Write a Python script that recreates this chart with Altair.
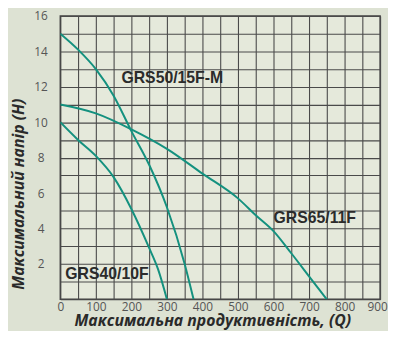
import altair as alt
import pandas as pd

# Curve readings (Q, H)
grs50_q = [0, 50, 100, 150, 200, 250, 300, 350, 375]
grs50_h = [15, 14.1, 13.0, 11.5, 9.5, 7.6, 5.2, 2.0, 0]

grs65_q = [0, 100, 200, 300, 400, 500, 550, 600, 650, 700, 750]
grs65_h = [11, 10.5, 9.6, 8.5, 7.1, 5.7, 4.75, 3.85, 2.6, 1.3, 0]

grs40_q = [0, 50, 100, 150, 200, 250, 275, 300]
grs40_h = [10, 9.0, 8.1, 6.9, 5.1, 2.9, 1.7, 0]

label_names = ["GRS50/15F-M", "GRS65/11F", "GRS40/10F"]
label_q = [172, 600, 14]
label_h = [12.5, 4.57, 1.45]

x_title = "Максимальна продуктивність, (Q)"
y_title = "Максимальний напір (H)"

rows = []
for name, qs, hs in [("GRS50/15F-M", grs50_q, grs50_h),
                     ("GRS65/11F", grs65_q, grs65_h),
                     ("GRS40/10F", grs40_q, grs40_h)]:
    for i, (q, h) in enumerate(zip(qs, hs)):
        rows.append({"series": name, "Q": q, "H": h, "order": i})
df = pd.DataFrame(rows)
labels = pd.DataFrame({"name": label_names, "Q": label_q, "H": label_h})

xscale = alt.Scale(domain=[0, 900], nice=False)
yscale = alt.Scale(domain=[0, 16], nice=False)

xaxis = alt.Axis(
    values=list(range(0, 901, 50)),
    labelExpr="datum.value % 100 == 0 ? datum.label : ''",
    grid=True, gridColor="#4a4a4a", gridWidth=1.1, gridOpacity=1,
    ticks=False, domain=False, labelOverlap=False,
    labelFont="Open Sans", labelFontSize=12, labelColor="#555555", labelPadding=2,
    labelFlush=False,
    labelOffset={"condition": {"test": "datum.value == 900", "value": -3}, "value": 0},
    title=x_title, titleFont="Open Sans", titleFontSize=16, titleFontStyle="italic",
    titleFontWeight="bold", titleColor="#2a2a2a",
    titleX=154, titleY=22, titleBaseline="middle", titleAnchor="middle",
)
yaxis = alt.Axis(
    values=list(range(0, 17)),
    labelExpr="(datum.value % 2 == 0 && datum.value > 0) ? datum.label : ''",
    grid=True, gridColor="#4a4a4a", gridWidth=1.1, gridOpacity=1,
    ticks=False, domain=False, labelOverlap=False, labelFlush=False,
    labelFont="Open Sans", labelFontSize=12, labelColor="#555555",
    labelAlign="center", labelBaseline="middle", labelPadding=20,
    title=y_title, titleFont="Open Sans", titleFontSize=16, titleFontStyle="italic",
    titleFontWeight="bold", titleColor="#2a2a2a",
    titleX=-42, titleY=180, titleAngle=270, titleBaseline="middle", titleAnchor="middle",
)

lines = alt.Chart(df).mark_line(
    interpolate="monotone", color="#14917f", strokeWidth=2, clip=True
).encode(
    x=alt.X("Q:Q", scale=xscale, axis=xaxis),
    y=alt.Y("H:Q", scale=yscale, axis=yaxis),
    detail="series:N",
    order="order:Q",
)

texts = alt.Chart(labels).mark_text(
    align="left", baseline="middle", font="Liberation Sans", fontSize=16,
    fontWeight="bold", color="#2b2b2b"
).encode(
    x=alt.X("Q:Q", scale=xscale, axis=xaxis),
    y=alt.Y("H:Q", scale=yscale, axis=yaxis),
    text="name:N",
)

chart = alt.layer(lines, texts).properties(
    width=324, height=287,
    autosize=alt.AutoSizeParams(type="none"),
    padding={"left": 53, "top": 6, "right": 8, "bottom": 30},
    background="#dde2d3",
).configure_view(
    fill="#e5e9db", stroke="#404040", strokeWidth=1.5
)

chart.save("out.html", embed_options={"renderer": "svg", "actions": False})
